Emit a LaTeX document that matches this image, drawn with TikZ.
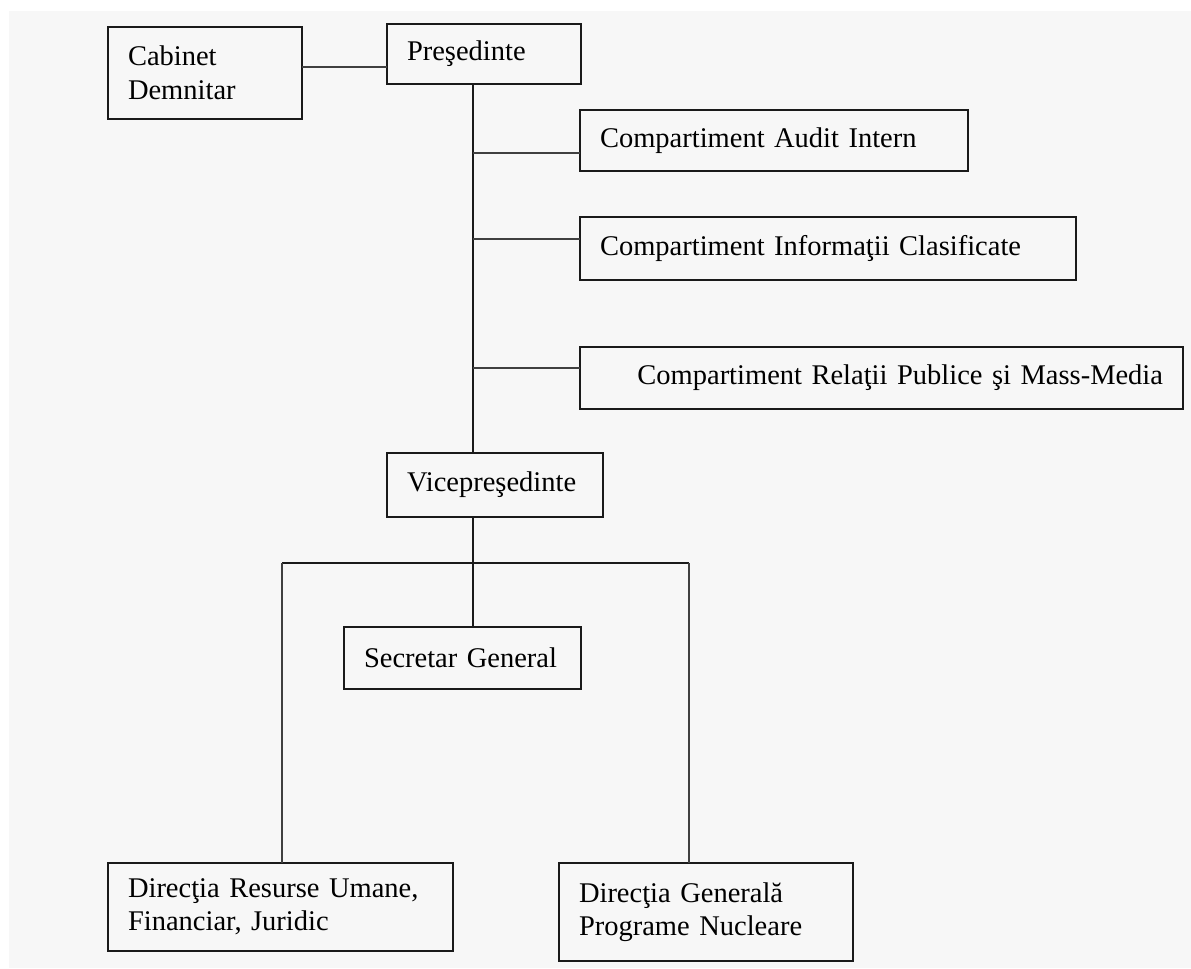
\documentclass[tikz,border=0pt]{standalone}
\usepackage{fontspec}
\setmainfont{Liberation Serif}
\usepackage{tikz}
\definecolor{paper}{HTML}{F7F7F7}
\definecolor{boxline}{HTML}{1A1A1A}
\definecolor{linkgrey}{HTML}{404040}
\tikzset{orgbox/.style={draw=boxline, line width=1.3pt, anchor=north west, outer sep=0pt,
                        inner xsep=10pt, inner ysep=2pt, align=left,
                        font=\fontsize{14.25}{16.75}\selectfont},
         trunkline/.style={draw=boxline, line width=1.3pt},
         branchline/.style={draw=linkgrey, line width=1.2pt}}

\begin{document}
\begin{tikzpicture}[x=0.5pt,y=-0.5pt]
    \useasboundingbox (0,0) rectangle (1191,969);
    \fill[white] (0,0) rectangle (1191,969);
    \fill[paper] (9,11) rectangle (1191,968);

    % boxes
    \node[orgbox, text width=77pt, minimum height=46pt] (cab) at (108,27) {Cabinet\\Demnitar};
    \node[orgbox, text width=77pt, minimum height=30pt] (pres) at (387,24) {Preşedinte};
    \node[orgbox, text width=174pt, minimum height=30.5pt] (audit) at (580,110) {Compartiment Audit Intern};
    \node[orgbox, text width=228pt, minimum height=31.5pt] (info) at (580,217) {Compartiment Informaţii Clasificate};
    \node[orgbox, text width=281.5pt, minimum height=31pt, align=right] (relatii) at (580,347) {Compartiment Relaţii Publice şi Mass-Media};
    \node[orgbox, text width=88pt, minimum height=32pt] (vice) at (387,453) {Vicepreşedinte};
    \node[orgbox, text width=98.5pt, minimum height=31pt] (secr) at (344,627) {Secretar General};
    \node[orgbox, text width=152.5pt, minimum height=44pt] (dru) at (108,863) {Direcţia Resurse Umane,\\Financiar, Juridic};
    \node[orgbox, text width=127pt, minimum height=49pt] (dg) at (559,863) {Direcţia Generală\\Programe Nucleare};

    % connectors
    \coordinate (trunk) at (473,0);
    \coordinate (barL) at (282,563);
    \coordinate (barR) at (689,563);
    \coordinate (cabOut) at ([yshift=3pt]cab.east);
    \coordinate (auditIn) at ([yshift=-6.25pt]audit.west);
    \coordinate (infoIn) at ([yshift=4.75pt]info.west);
    \coordinate (relatiiIn) at ([yshift=5pt]relatii.west);

    \draw[branchline] (cabOut) -- (cabOut -| pres.west);
    \draw[trunkline] (pres.south -| trunk) -- (vice.north -| trunk);
    \draw[branchline] (auditIn -| trunk) -- (auditIn);
    \draw[branchline] (infoIn -| trunk) -- (infoIn);
    \draw[branchline] (relatiiIn -| trunk) -- (relatiiIn);
    \draw[trunkline] (vice.south -| trunk) -- (secr.north -| trunk);
    \draw[trunkline] (barL) -- (barR);
    \draw[branchline] (barL) -- (barL |- dru.north);
    \draw[branchline] (barR) -- (barR |- dg.north);
\end{tikzpicture}
\end{document}
